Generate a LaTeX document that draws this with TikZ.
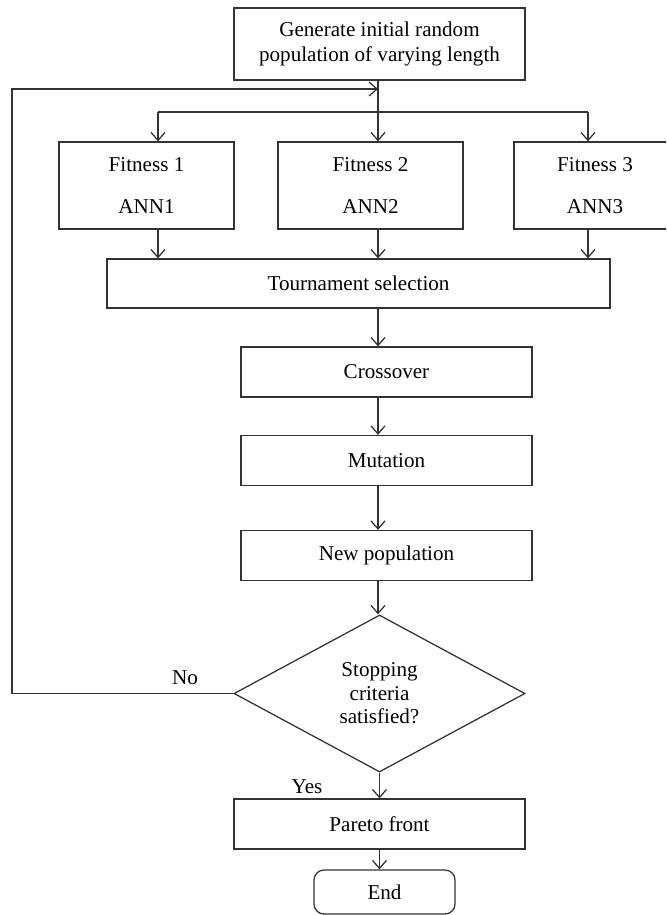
\documentclass[tikz,border=0pt]{standalone}
\usepackage{fontspec}
\setmainfont{Liberation Serif}
\usetikzlibrary{shapes.geometric,arrows.meta}
\tikzset{
	box/.style={draw=black!80, line width=0.9pt, minimum height=1.25cm, inner sep=2pt,
		align=center, font=\fontsize{15}{17.5}\selectfont},
	fitbox/.style={box, minimum height=2.175cm},
	decision/.style={box, diamond, minimum width=7.275cm, minimum height=3.925cm, inner sep=0pt,
		font=\fontsize{15}{16.8}\selectfont},
	lbl/.style={inner sep=0pt, font=\fontsize{15}{17.5}\selectfont},
	line/.style={draw=black!80, line width=0.9pt},
	arr/.style={line, -{Straight Barb[length=0.2cm,width=0.35cm]}}
}

\begin{document}
\begin{tikzpicture}[x=0.025cm, y=-0.025cm]

					\clip (0,0) rectangle (666,915);

					% boxes
					\node[box, minimum width=7.275cm, minimum height=1.8cm] (init) at (379.5,44) {Generate initial random\\population of varying length};

					\node[fitbox, minimum width=4.375cm] (fit1) at (146.5,185.5) {Fitness 1\\[12.5pt]ANN1};
					\node[fitbox, minimum width=4.625cm] (fit2) at (370.5,185.5) {Fitness 2\\[12.5pt]ANN2};
					\node[fitbox, minimum width=4.05cm] (fit3) at (595,185.5) {Fitness 3\\[12.5pt]ANN3};

					\node[box, minimum width=12.575cm, minimum height=1.225cm] (tourn) at (358.5,283.5) {Tournament selection};
					\node[box, minimum width=7.275cm] (cross) at (386.5,372) {Crossover};
					\node[box, minimum width=7.275cm] (mut) at (386.5,460.5) {Mutation};
					\node[box, minimum width=7.275cm] (newpop) at (386.5,555.5) {New population};

					\node[decision] (stop) at (379.5,693.5) {Stopping\\criteria\\satisfied?};

					\node[box, minimum width=7.275cm] (pareto) at (379.5,824) {Pareto front};
					\node[box, rounded corners=0.25cm, minimum width=3.525cm, minimum height=1.1cm] (end) at (384.5,892) {End};

					\node[lbl] (no) at (185,678) {No};
					\node[lbl] (yes) at (307,787) {Yes};

					% junctions
					\coordinate (mid) at (378,89);
					\coordinate (loop) at (12,89);
					\coordinate (b1) at (158,112);
					\coordinate (b3) at (588,112);

					% arrows
					\draw[arr] (mid |- init.south) -- (mid |- fit2.north);
					\draw[line] (b1) -- (b3);
					\draw[arr] (b1) -- (b1 |- fit1.north);
					\draw[arr] (b3) -- (b3 |- fit3.north);

					\draw[arr] (b1 |- fit1.south) -- (b1 |- tourn.north);
					\draw[arr] (mid |- fit2.south) -- (mid |- tourn.north);
					\draw[arr] (b3 |- fit3.south) -- (b3 |- tourn.north);

					\draw[arr] (mid |- tourn.south) -- (mid |- cross.north);
					\draw[arr] (mid |- cross.south) -- (mid |- mut.north);
					\draw[arr] (mid |- mut.south) -- (mid |- newpop.north);
					\draw[arr] (mid |- newpop.south) -- (mid |- stop.north);
					\draw[arr] (stop.south) -- (stop.south |- pareto.north);
					\draw[arr] (pareto.south) -- (pareto.south |- end.north);

					\draw[arr] (stop.west) -| (loop) -- (mid);

\end{tikzpicture}
\end{document}
